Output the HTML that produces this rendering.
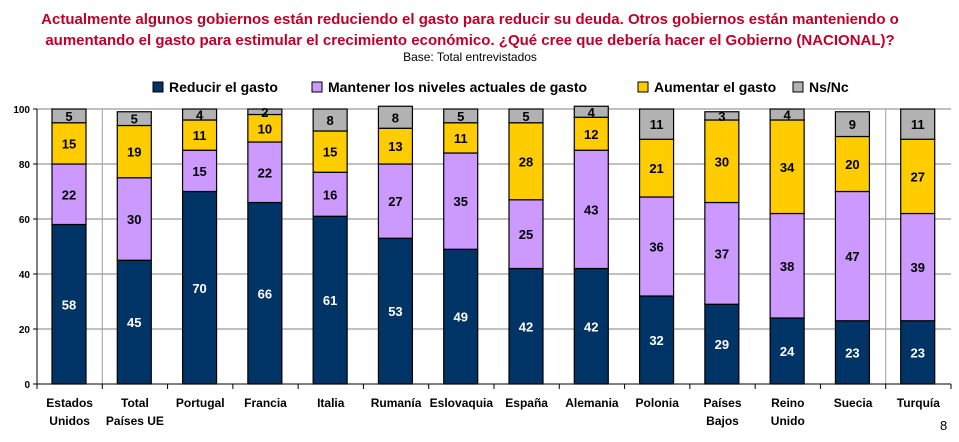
<!DOCTYPE html>
<html><head><meta charset="utf-8"><style>
body{margin:0;width:959px;height:442px;background:#fff;font-family:"Liberation Sans",sans-serif;overflow:hidden;position:relative}
.t{position:absolute;left:0;width:940px;text-align:center;color:#c0002a;font-weight:bold;font-size:15px}
</style></head><body>
<div class="t" style="top:9px;line-height:21px">Actualmente algunos gobiernos están reduciendo el gasto para reducir su deuda. Otros gobiernos están manteniendo o<br>aumentando el gasto para estimular el crecimiento económico. ¿Qué cree que debería hacer el Gobierno (NACIONAL)?</div>
<div style="position:absolute;top:50px;left:0;width:940px;text-align:center;font-size:12px">Base: Total entrevistados</div>
<svg id="c" width="959" height="442" style="position:absolute;left:0;top:0"></svg>
<script>
const categories=["Estados|Unidos","Total|Países UE","Portugal","Francia","Italia","Rumanía","Eslovaquia","España","Alemania","Polonia","Países|Bajos","Reino|Unido","Suecia","Turquía"];
const reducir=[58,45,70,66,61,53,49,42,42,32,29,24,23,23];
const mantener=[22,30,15,22,16,27,35,25,43,36,37,38,47,39];
const aumentar=[15,19,11,10,15,13,11,28,12,21,30,34,20,27];
const nsnc=[5,5,4,2,8,8,5,5,4,11,3,4,9,11];
const seriesNames=["Reducir el gasto","Mantener los niveles actuales de gasto","Aumentar el gasto","Ns/Nc"];
const yTicks=[0,20,40,60,80,100];
const svg=document.getElementById('c');const NS='http://www.w3.org/2000/svg';
const L=37,R=951,Y0=384,Y100=109;
const cw=(R-L)/categories.length;
const y=v=>Y0-(Y0-Y100)*v/100;
const x=i=>L+i*cw;
function mk(t,a,p){const e=document.createElementNS(NS,t);for(const k in a)e.setAttribute(k,a[k]);(p||svg).appendChild(e);return e;}
const colors=["#003366","#cc99ff","#ffcc00","#b2b2b2"];
const tcol=["#fff","#000","#000","#000"];
const series=[reducir,mantener,aumentar,nsnc];
// grid
yTicks.forEach(v=>{
 if(v>0){const g=mk('line',{x1:L,x2:R,y1:y(v),y2:y(v),stroke:'#808080','stroke-width':1});
 
 }
 const t=mk('text',{x:L-7,y:y(v)+4,'text-anchor':'end','font-size':10,'font-weight':'bold',fill:'#000'});t.textContent=v;
 
 
 mk('line',{x1:L-4,x2:L,y1:y(v),y2:y(v),stroke:'#000'});
});
[1,13].forEach(i=>{const s=mk('line',{x1:x(i),x2:x(i),y1:Y100,y2:Y0,stroke:'#a0a0a0'});

});
mk('line',{x1:L,x2:L,y1:Y100,y2:Y0,stroke:'#000'});
mk('line',{x1:L,x2:R,y1:Y0,y2:Y0,stroke:'#000'});
for(let i=0;i<=categories.length;i++)mk('line',{x1:x(i),x2:x(i),y1:Y0,y2:Y0+5,stroke:'#000'});
categories.forEach((c,i)=>{
 let acc=0;const bx=x(i)+15,bw=34,cx=bx+bw/2;
 series.forEach((s,k)=>{
  const v=s[i];const r=mk('rect',{x:bx,y:y(acc+v),width:bw,height:y(acc)-y(acc+v),fill:colors[k],stroke:'#000','stroke-width':1.2});
  
  
  const t=mk('text',{x:cx,y:(y(acc)+y(acc+v))/2+5,'text-anchor':'middle','font-size':13,'font-weight':'bold',fill:tcol[k]});t.textContent=v;
  
  
  acc+=v;
 });
 c.split('|').forEach((ln,j)=>{const t=mk('text',{x:x(i)+cw/2,y:407+j*18,'text-anchor':'middle','font-size':12,'font-weight':'bold',fill:'#000'});t.textContent=ln;
 
 });
});
// legend
const lx=[153,312,638,793];
seriesNames.forEach((n,k)=>{
 const g=mk('g',{});
 
 
 mk('rect',{x:lx[k],y:82,width:10,height:10,fill:colors[k],stroke:'#000'},g);
 const t=mk('text',{x:lx[k]+16,y:92,'font-size':14,'font-weight':'bold',fill:'#000'},g);t.textContent=n;
});
const p=mk('text',{x:940,y:430,'font-size':13,fill:'#000'});p.textContent='8';


</script>
</body></html>
